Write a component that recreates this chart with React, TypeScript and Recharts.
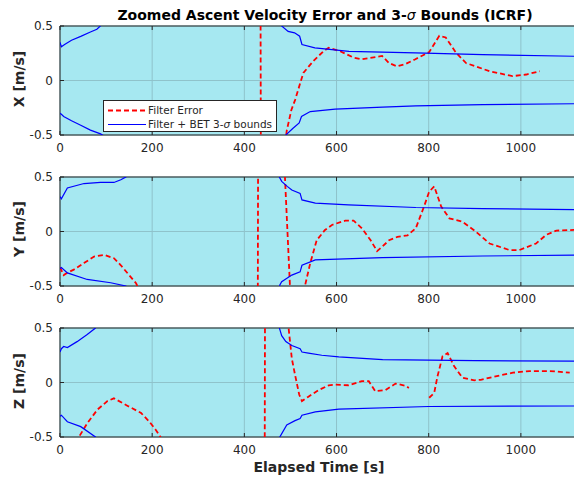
import React from "react";
import {
  LineChart,
  Line,
  XAxis,
  YAxis,
  CartesianGrid,
  ReferenceArea,
  Legend,
} from "recharts";

// axis ticks
const timeTicks = [0, 200, 400, 600, 800, 1000];
const velTicks = [-0.5, 0, 0.5];

// X component
const xErrT = [434, 437, 488, 492, 502, 510, 528, 550, 572, 583, 607, 637, 655, 677, 699, 714, 731, 749, 771, 801, 823, 837, 859, 881, 902, 932, 982, 1012, 1041];
const xErrV = [3, -3, -0.6, -0.46, -0.27, -0.18, 0.07, 0.18, 0.27, 0.3, 0.27, 0.21, 0.195, 0.21, 0.225, 0.16, 0.13, 0.15, 0.195, 0.26, 0.41, 0.395, 0.256, 0.16, 0.13, 0.085, 0.04, 0.055, 0.085];
const xUpT = [0, 3, 10, 25, 45, 66, 80, 90, 150, 470, 481, 495, 509, 520, 525, 553, 627, 771, 917, 1150];
const xUpV = [0.35, 0.31, 0.33, 0.37, 0.405, 0.445, 0.47, 0.51, 2, 2, 0.5, 0.45, 0.437, 0.406, 0.33, 0.3, 0.268, 0.253, 0.237, 0.22];
const xLoT = [0, 3, 8, 25, 45, 66, 88, 100, 200, 470, 490, 505, 519, 524, 543, 597, 700, 772, 917, 1150];
const xLoV = [-0.3, -0.31, -0.33, -0.37, -0.41, -0.455, -0.49, -0.52, -2, -2, -0.5, -0.44, -0.39, -0.33, -0.285, -0.263, -0.245, -0.233, -0.222, -0.212];

// Y component
const yErrT = [0, 8, 15, 30, 52, 74, 96, 117, 132, 150, 165, 175, 200, 428, 431, 487, 499, 505, 528, 532, 543, 557, 575, 590, 619, 637, 655, 674, 688, 699, 714, 732, 754, 772, 790, 801, 812, 827, 845, 873, 902, 932, 975, 997, 1033, 1055, 1077, 1120];
const yErrV = [-0.33, -0.4, -0.38, -0.35, -0.29, -0.23, -0.215, -0.245, -0.31, -0.4, -0.475, -0.56, -2, -3, 3, 0.6, -0.5, -0.7, -0.6, -0.49, -0.29, -0.08, 0.014, 0.06, 0.1, 0.1, 0.03, -0.08, -0.18, -0.14, -0.08, -0.05, -0.035, 0.03, 0.23, 0.365, 0.414, 0.23, 0.12, 0.09, 0.0, -0.11, -0.17, -0.17, -0.11, -0.03, 0.008, 0.015];
const yUpT = [0, 3, 16, 52, 88, 117, 132, 143, 150, 300, 470, 476, 481, 493, 503, 521, 525, 554, 626, 772, 917, 1150];
const yUpV = [0.32, 0.3, 0.4, 0.44, 0.45, 0.45, 0.475, 0.5, 0.55, 2, 1.5, 0.5, 0.46, 0.414, 0.38, 0.35, 0.29, 0.26, 0.245, 0.22, 0.21, 0.2];
const yLoT = [0, 3, 16, 59, 110, 143, 155, 300, 465, 477, 481, 503, 521, 525, 554, 699, 917, 1150];
const yLoV = [-0.34, -0.33, -0.38, -0.44, -0.47, -0.5, -0.56, -2, -1.5, -0.49, -0.46, -0.4, -0.37, -0.31, -0.26, -0.24, -0.225, -0.215];

// Z component
const zErrT = [30, 41, 59, 81, 103, 117, 147, 176, 194, 208, 218, 230, 443, 446, 492, 496, 503, 510, 519, 525, 539, 561, 583, 597, 626, 655, 670, 684, 706, 728, 750, 757, 780, 801, 812, 819, 830, 841, 855, 873, 899, 913, 954, 983, 1019, 1063, 1106];
const zErrV = [-0.7, -0.5, -0.375, -0.25, -0.17, -0.145, -0.215, -0.28, -0.36, -0.435, -0.5, -2, -3, 3, 0.9, 0.5, 0.22, 0.07, -0.11, -0.17, -0.13, -0.07, -0.026, -0.02, -0.025, 0.012, 0.012, -0.08, -0.07, -0.01, -0.03, -0.05, null, -0.14, -0.095, 0.055, 0.24, 0.27, 0.15, 0.045, 0.02, 0.025, 0.065, 0.09, 0.105, 0.105, 0.09];
const zUpT = [0, 3, 8, 16, 37, 59, 77, 90, 200, 465, 476, 481, 490, 503, 521, 525, 539, 568, 605, 700, 900, 1150];
const zUpV = [0.28, 0.31, 0.33, 0.32, 0.375, 0.44, 0.5, 0.6, 2, 2, 0.5, 0.43, 0.375, 0.34, 0.31, 0.28, 0.27, 0.25, 0.235, 0.21, 0.2, 0.195];
const zLoT = [0, 3, 16, 45, 77, 90, 200, 465, 477, 492, 510, 521, 525, 554, 605, 800, 1150];
const zLoV = [-0.31, -0.3, -0.36, -0.405, -0.5, -0.6, -2, -2, -0.5, -0.39, -0.35, -0.33, -0.3, -0.27, -0.245, -0.22, -0.215];

const zip = (t: number[], v: (number | null)[]) => t.map((tt, i) => ({ t: tt, v: v[i] }));

const FONT = "DejaVu Sans";
const INK = "#262626";
const BG = "#a6e8f1";
const GRID = "#8fc3cb";
const W = 620;
const H = 160;
const TOP = 10;
const PH = 109;
const LEFT = 60;

const withSigma = (s: string) =>
  s.split("σ").map((part, i) => (
    <React.Fragment key={i}>
      {i > 0 && <tspan fontStyle="italic" fontWeight="normal">σ</tspan>}
      {part}
    </React.Fragment>
  ));

const renderLegend = (props: any) => {
  // dashed error entry first, as plotted
  const items = (props.payload || [])
    .filter((e: any) => e.type !== "none")
    .slice()
    .sort((a: any, b: any) => {
      const da = a.payload && a.payload.strokeDasharray ? 0 : 1;
      const db = b.payload && b.payload.strokeDasharray ? 0 : 1;
      return da - db;
    });
  return (
    <svg width={174} height={32} style={{ display: "block" }}>
      <rect x={0.5} y={0.5} width={173} height={31} fill="#fff" stroke={INK} />
      {items.map((e: any, i: number) => (
        <g key={i}>
          <line
            x1={5}
            x2={43}
            y1={10.5 + i * 14}
            y2={10.5 + i * 14}
            stroke={e.color}
            strokeWidth={i === 0 ? 1.8 : 1.2}
            strokeDasharray={e.payload && e.payload.strokeDasharray}
          />
          <text x={45} y={14.3 + i * 14} fontFamily={FONT} fontSize={10.5} fill={INK}>
            {withSigma(String(e.value))}
          </text>
        </g>
      ))}
    </svg>
  );
};

const xTick = (p: any) => (
  <g>
    <line x1={p.x} x2={p.x} y1={TOP} y2={TOP + 4} stroke={INK} />
    <line x1={p.x} x2={p.x} y1={TOP + PH} y2={TOP + PH - 4} stroke={INK} />
    <text x={p.x} y={TOP + PH + 17} textAnchor="middle" fontFamily={FONT} fontSize={12} fill={INK}>
      {p.payload.value}
    </text>
  </g>
);

const yTick = (p: any) => (
  <g>
    <line x1={LEFT} x2={LEFT + 4} y1={p.y} y2={p.y} stroke={INK} />
    <text x={53} y={p.y + 4.3} textAnchor="end" fontFamily={FONT} fontSize={12} fill={INK}>
      {p.payload.value}
    </text>
  </g>
);

type PanelProps = {
  top: number;
  err: { t: number; v: number | null }[];
  up: { t: number; v: number | null }[];
  lo: { t: number; v: number | null }[];
  legend?: boolean;
};

const Panel = ({ top, err, up, lo, legend }: PanelProps) => (
  <div style={{ position: "absolute", left: 0, top, width: W, height: H }}>
    <LineChart width={W} height={H} margin={{ top: TOP, right: 30, bottom: 0, left: 0 }}>
      <CartesianGrid fill={BG} fillOpacity={1} stroke={GRID} />
      <XAxis
        dataKey="t"
        type="number"
        domain={[0, 1150]}
        ticks={timeTicks}
        interval={0}
        allowDataOverflow
        axisLine={false}
        tickLine={false}
        tick={xTick}
        height={H - TOP - PH}
      />
      <YAxis
        type="number"
        domain={[-0.5, 0.5]}
        ticks={velTicks}
        interval={0}
        allowDataOverflow
        axisLine={false}
        tickLine={false}
        tick={yTick}
        width={LEFT}
      />
      <Line
        data={err}
        dataKey="v"
        name="Filter Error"
        stroke="#ff0000"
        strokeWidth={1.8}
        strokeDasharray="5 3"
        dot={false}
        activeDot={false}
        isAnimationActive={false}
      />
      <Line
        data={up}
        dataKey="v"
        name="Filter + BET 3-σ bounds"
        stroke="#0000ff"
        strokeWidth={1.2}
        dot={false}
        activeDot={false}
        isAnimationActive={false}
      />
      <Line
        data={lo}
        dataKey="v"
        legendType="none"
        stroke="#0000ff"
        strokeWidth={1.2}
        dot={false}
        activeDot={false}
        isAnimationActive={false}
      />
      <ReferenceArea x1={0} x2={1150} y1={-0.5} y2={0.5} fill="none" stroke={INK} strokeWidth={1} />
      {legend && (
        <Legend
          layout="horizontal"
          verticalAlign="middle"
          align="center"
          content={renderLegend}
          wrapperStyle={{ position: "absolute", left: 103, top: 83.5, width: 174, height: 32 }}
        />
      )}
    </LineChart>
  </div>
);

export default function App() {
  return (
    <div
      style={{
        position: "absolute",
        left: 0,
        top: 0,
        width: 574,
        height: 481,
        overflow: "hidden",
        background: "#fff",
      }}
    >
      <Panel top={16} err={zip(xErrT, xErrV)} up={zip(xUpT, xUpV)} lo={zip(xLoT, xLoV)} legend />
      <Panel top={167} err={zip(yErrT, yErrV)} up={zip(yUpT, yUpV)} lo={zip(yLoT, yLoV)} />
      <Panel top={318} err={zip(zErrT, zErrV)} up={zip(zUpT, zUpV)} lo={zip(zLoT, zLoV)} />
      <svg
        width={574}
        height={481}
        style={{ position: "absolute", left: 0, top: 0, pointerEvents: "none" }}
      >
        <text x={325} y={20} textAnchor="middle" fontFamily={FONT} fontSize={14} fontWeight="bold" fill="#000">
          {withSigma("Zoomed Ascent Velocity Error and 3-σ Bounds (ICRF)")}
        </text>
        <text x={319} y={472} textAnchor="middle" fontFamily={FONT} fontSize={14} fontWeight="bold" fill={INK}>
          Elapsed Time [s]
        </text>
        {[
          { y: 79, label: "X [m/s]" },
          { y: 229, label: "Y [m/s]" },
          { y: 381, label: "Z [m/s]" },
        ].map((d) => (
          <text
            key={d.label}
            transform={`translate(24,${d.y}) rotate(-90)`}
            textAnchor="middle"
            fontFamily={FONT}
            fontSize={14}
            fontWeight="bold"
            fill={INK}
          >
            {d.label}
          </text>
        ))}
      </svg>
    </div>
  );
}
